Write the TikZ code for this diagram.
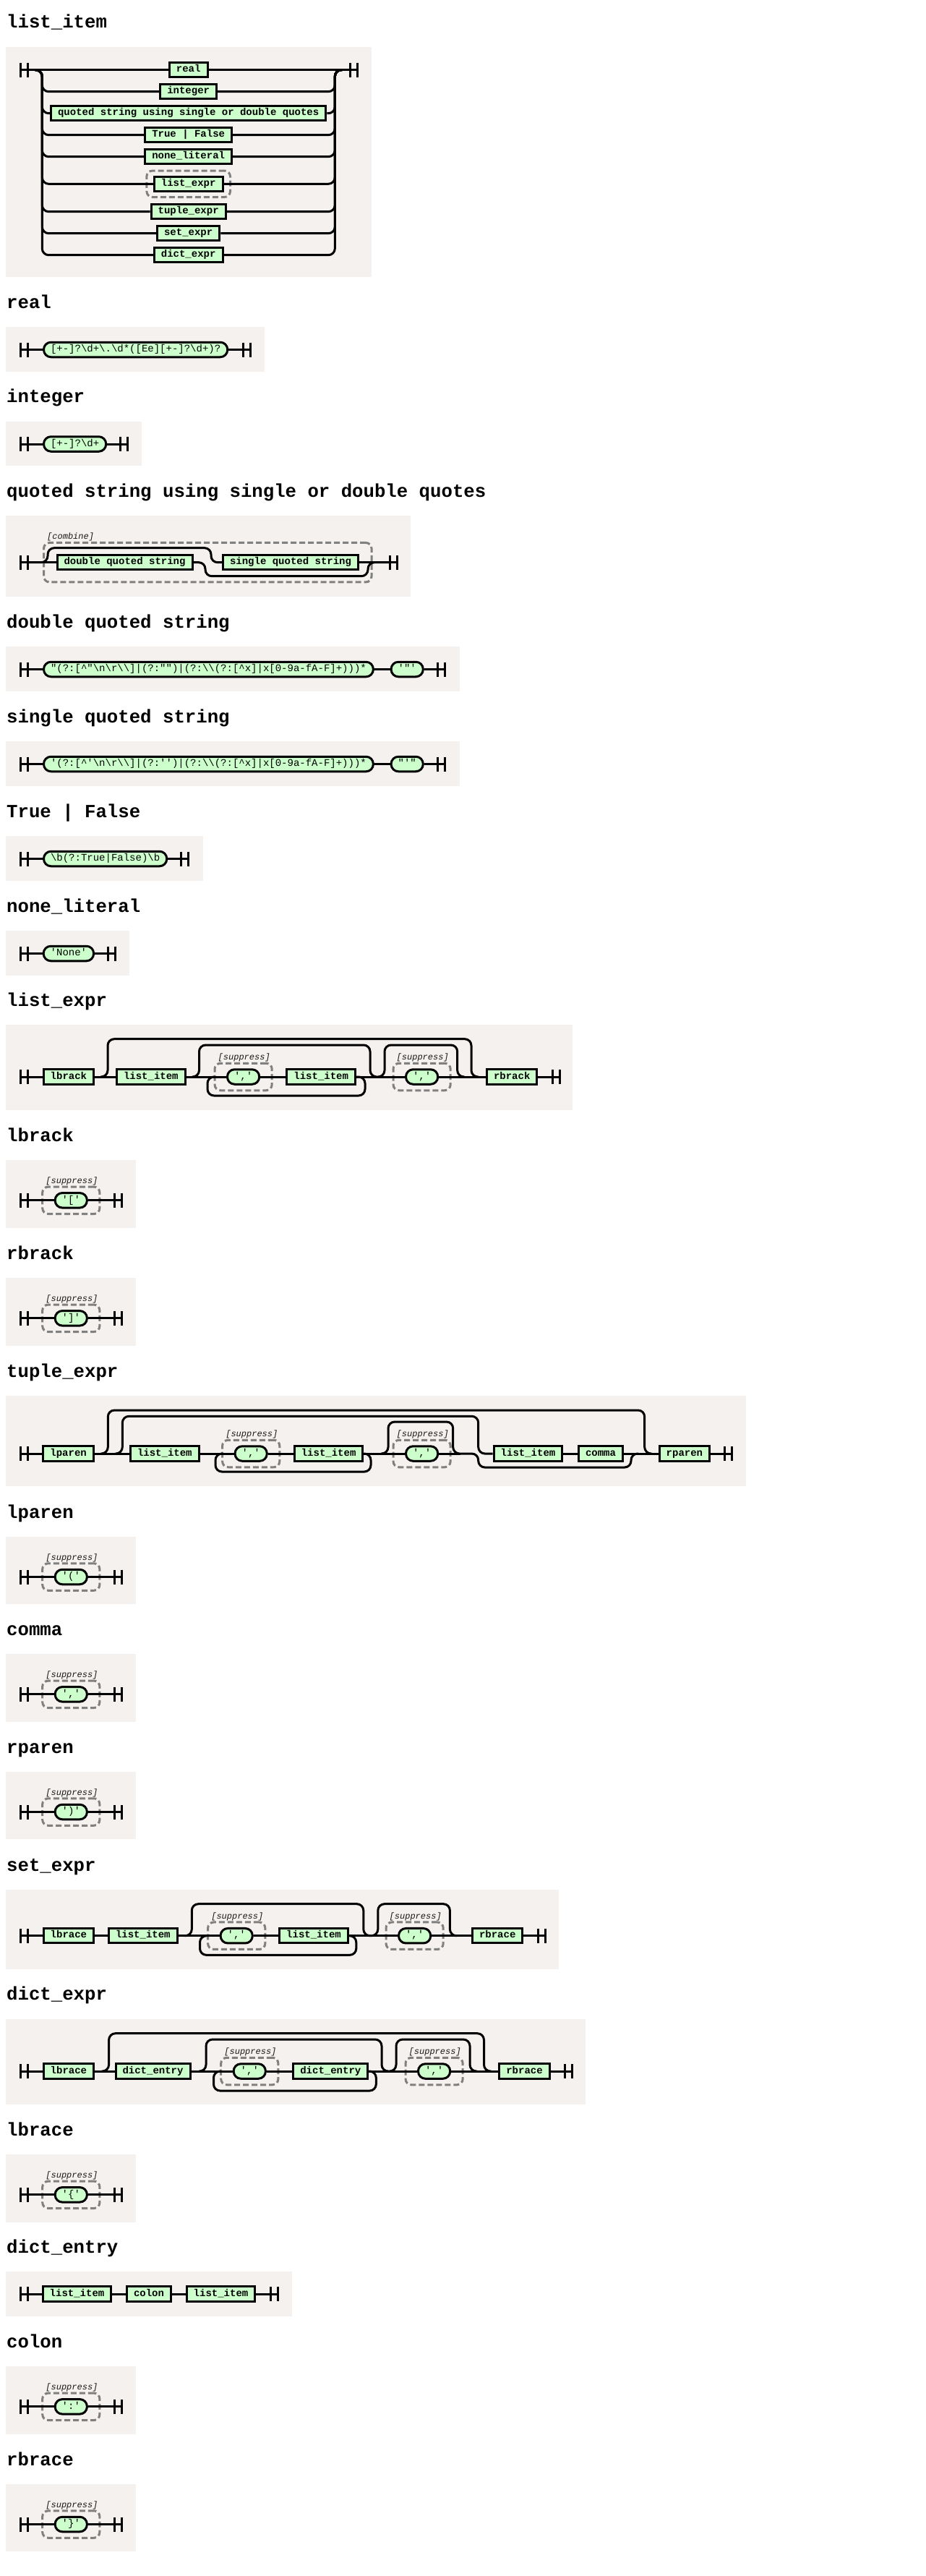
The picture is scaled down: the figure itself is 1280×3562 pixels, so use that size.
\documentclass[tikz,border=0pt]{standalone}
\usepackage{fontspec}
\setmonofont{Liberation Mono}
\usepackage{tikz}
\usetikzlibrary{fit}
\definecolor{panelbg}{RGB}{244,241,238}
\definecolor{boxgreen}{RGB}{204,255,204}
\definecolor{grpgray}{RGB}{128,128,128}
\newcommand{\rbs}{\textbackslash}
\newcommand{\rrtitle}{\ttfamily\bfseries\fontsize{25.7}{30}\selectfont}
\newcommand{\rrbox}{\ttfamily\bfseries\fontsize{14}{16}\selectfont}
\newcommand{\rrterm}{\ttfamily\fontsize{14}{16}\selectfont}
\newcommand{\rrnote}{\ttfamily\itshape\fontsize{12}{14}\selectfont}
\newcommand{\rrstart}[2]{\draw[line width=3pt] (28.7,#2-10) -- (28.7,#2+10) (38.7,#2-10) -- (38.7,#2+10) (28.7,#2) -- (38.7,#2); \coordinate (#1) at (38.7,#2);}
\newcommand{\rrend}[3]{\draw[line width=3pt] (#2,#3-10) -- (#2,#3+10) (#2+10,#3-10) -- (#2+10,#3+10) (#2,#3) -- (#2+10,#3); \coordinate (#1) at (#2,#3);}

\begin{document}
\begin{tikzpicture}[x=1pt, y=-1pt,
		panel/.style={fill=panelbg},
		rail/.style={line width=3pt, rounded corners=9pt},
		nterm/.style={draw, fill=boxgreen, line width=3pt, minimum height=20.5pt, inner xsep=9.5pt, inner ysep=0pt, text height=9pt, text depth=2.5pt, font=\rrbox},
		term/.style={nterm, rounded corners=10pt, font=\rrterm},
		grp/.style={draw=grpgray, line width=3pt, dash pattern=on 8pt off 4pt, rounded corners=8pt, inner xsep=16pt, inner ysep=7pt},
		grpnote/.style={font=\rrnote, text=black!90, inner sep=0pt, anchor=base west},
		rrhead/.style={font=\rrtitle, inner sep=0pt, anchor=base west}]
	\fill[white] (0,0) rectangle (1280,3562);

	\node[rrhead] (h-li) at (9,39) {list\_item};
	\fill[panel] (8,65) rectangle (514,383);
	\rrstart{li-s}{96.7}
	\rrend{li-e}{484}{96.7}
	\node[nterm] (li1) at (260.7,96.7) {real};
	\node[nterm] (li2) at (260.7,126.7) {integer};
	\node[nterm] (li3) at (260.7,156.7) {quoted string using single or double quotes};
	\node[nterm] (li4) at (260.7,186.7) {True | False};
	\node[nterm] (li5) at (260.7,216.7) {none\_literal};
	\node[nterm] (li6) at (260.7,254.3) {list\_expr};
	\node[nterm] (li7) at (260.7,292.7) {tuple\_expr};
	\node[nterm] (li8) at (260.7,322.7) {set\_expr};
	\node[nterm] (li9) at (260.7,352.7) {dict\_expr};
	\node[grp, fit=(li6), inner xsep=9pt, inner ysep=6.5pt] (li-g) {};
	\coordinate (li-l) at (48.3,96.7);
	\coordinate (li-lv) at (58.3,96.7);
	\coordinate (li-rv) at (463.3,96.7);
	\coordinate (li-r) at (473.3,96.7);
	\draw[rail] (li-s) -- (li1) -- (li-e);
	\foreach \n in {li2,li3,li4,li5,li6,li7,li8,li9}
		\draw[rail] (li-l) -| (li-lv |- \n.west) -- (\n.west) (\n.east) -| (li-rv) -- (li-r);

	\node[rrhead] (h-re) at (9,426) {real};
	\fill[panel] (8,452) rectangle (366,513.5);
	\rrstart{re-s}{483.5}
	\node[term, anchor=west] (re1) at (59,483.5) {[+-]?\rbs d+\rbs .\rbs d*([Ee][+-]?\rbs d+)?};
	\rrend{re-e}{336.5}{483.5}
	\draw[rail] (re-s) -- (re1) -- (re-e);

	\node[rrhead] (h-in) at (9,556.5) {integer};
	\fill[panel] (8,582.5) rectangle (196,644);
	\rrstart{in-s}{614}
	\node[term, anchor=west] (in1) at (59,614) {[+-]?\rbs d+};
	\rrend{in-e}{166.4}{614}
	\draw[rail] (in-s) -- (in1) -- (in-e);

	\node[rrhead] (h-qs) at (9,687) {quoted string using single or double quotes};
	\fill[panel] (8,713) rectangle (568,824.7);
	\rrstart{qs-s}{777.7}
	\node[nterm, anchor=west] (qs1) at (77.5,777.7) {double quoted string};
	\node[nterm, anchor=west] (qs2) at (307,777.7) {single quoted string};
	\node[grp, fit=(qs1)(qs2), inner xsep=17pt, inner ysep=15.5pt] (qs-g) {};
	\node[grpnote] (qs-n) at ([xshift=6pt,yshift=3.5pt]qs-g.north west) {[combine]};
	\rrend{qs-e}{539}{777.7}
	\draw[rail] (qs-s) -- (qs1);
	\draw[rail] (qs-s) -| (66,757.7) -| (292,777.7) -- (qs2.west);
	\draw[rail] (qs1.east) -| (284,796.7) -| (509,777.7) -- (qs-e);
	\draw[rail] (qs2) -- (qs-e);

	\node[rrhead] (h-dq) at (9,868) {double quoted string};
	\fill[panel] (8,894) rectangle (635.5,955.5);
	\rrstart{dq-s}{925.5}
	\node[term, anchor=west] (dq1) at (59,925.5) {"(?:[\textasciicircum"\rbs n\rbs r\rbs\rbs]|(?:"")|(?:\rbs\rbs(?:[\textasciicircum x]|x[0-9a-fA-F]+)))*};
	\node[term, anchor=west] (dq2) at (539.6,925.5) {'"'};
	\rrend{dq-e}{605}{925.5}
	\draw[rail] (dq-s) -- (dq1) -- (dq2) -- (dq-e);

	\node[rrhead] (h-sq) at (9,999) {single quoted string};
	\fill[panel] (8,1025) rectangle (635.5,1086.5);
	\rrstart{sq-s}{1056.5}
	\node[term, anchor=west] (sq1) at (59,1056.5) {'(?:[\textasciicircum'\rbs n\rbs r\rbs\rbs]|(?:'')|(?:\rbs\rbs(?:[\textasciicircum x]|x[0-9a-fA-F]+)))*};
	\node[term, anchor=west] (sq2) at (539.6,1056.5) {"'"};
	\rrend{sq-e}{605}{1056.5}
	\draw[rail] (sq-s) -- (sq1) -- (sq2) -- (sq-e);

	\node[rrhead] (h-tf) at (9,1130) {True | False};
	\fill[panel] (8,1156) rectangle (281,1217.5);
	\rrstart{tf-s}{1187.5}
	\node[term, anchor=west] (tf1) at (59,1187.5) {\rbs b(?:True|False)\rbs b};
	\rrend{tf-e}{250}{1187.5}
	\draw[rail] (tf-s) -- (tf1) -- (tf-e);

	\node[rrhead] (h-nl) at (9,1261) {none\_literal};
	\fill[panel] (8,1287) rectangle (179,1348.5);
	\rrstart{nl-s}{1318.5}
	\node[term, anchor=west] (nl1) at (58.7,1318.5) {'None'};
	\rrend{nl-e}{149.4}{1318.5}
	\draw[rail] (nl-s) -- (nl1) -- (nl-e);

	\node[rrhead] (h-le) at (9,1391.3) {list\_expr};
	\fill[panel] (8,1417.3) rectangle (792,1535);
	\rrstart{le-s}{1489}
	\node[nterm, anchor=west] (le1) at (58.7,1489) {lbrack};
	\node[nterm, anchor=west] (le2) at (160,1489) {list\_item};
	\node[term, anchor=west] (le3) at (313,1489) {','};
	\node[nterm, anchor=west] (le4) at (395.4,1489) {list\_item};
	\node[term, anchor=west] (le5) at (560,1489) {','};
	\node[nterm, anchor=west] (le6) at (672,1489) {rbrack};
	\node[grp, fit=(le3)] (le-g1) {};
	\node[grp, fit=(le5)] (le-g2) {};
	\node[grpnote] (le-n1) at ([xshift=6pt,yshift=3pt]le-g1.north west) {[suppress]};
	\node[grpnote] (le-n2) at ([xshift=6pt,yshift=3pt]le-g2.north west) {[suppress]};
	\rrend{le-e}{764}{1489}
	\coordinate (le-o1) at (139,1489);
	\coordinate (le-o2) at (662,1489);
	\coordinate (le-k1) at (265.5,1489);
	\coordinate (le-k2) at (522,1489);
	\coordinate (le-r) at (297,1489);
	\coordinate (le-q2) at (642.7,1489);
	\draw[rail] (le-s) -- (le1) -- (le2) -- (le3) -- (le4) -- (le5) -- (le6) -- (le-e);
	\draw[rail] (le-o1) -| (149,1436.7) -| (652,1489) -- (le-o2);
	\draw[rail] (le-k1) -| (275.5,1445) -| (512,1489) -- (le-k2);
	\draw[rail] (le4.east) -| (505,1515) -| (287,1489) -- (le-r);
	\draw[rail] (le-k2) -| (532,1445) -| (632.7,1489) -- (le-q2);

	\node[rrhead] (h-te) at (9,1904) {tuple\_expr};
	\fill[panel] (8,1930) rectangle (1031.7,2055);
	\rrstart{te-s}{2010}
	\node[nterm, anchor=west] (te1) at (58.4,2010) {lparen};
	\node[nterm, anchor=west] (te2) at (179,2010) {list\_item};
	\node[term, anchor=west] (te3) at (323.6,2010) {','};
	\node[nterm, anchor=west] (te4) at (405.8,2010) {list\_item};
	\node[term, anchor=west] (te5) at (560,2010) {','};
	\node[nterm, anchor=west] (te6) at (681.7,2010) {list\_item};
	\node[nterm, anchor=west] (te7) at (799,2010) {comma};
	\node[nterm, anchor=west] (te8) at (910.7,2010) {rparen};
	\node[grp, fit=(te3)] (te-g1) {};
	\node[grp, fit=(te5)] (te-g2) {};
	\node[grpnote] (te-n1) at ([xshift=6pt,yshift=3pt]te-g1.north west) {[suppress]};
	\node[grpnote] (te-n2) at ([xshift=6pt,yshift=3pt]te-g2.north west) {[suppress]};
	\rrend{te-e}{1002.7}{2010}
	\coordinate (te-o1) at (139.3,2010);
	\coordinate (te-o2) at (901.7,2010);
	\coordinate (te-b1) at (159.3,2010);
	\coordinate (te-l) at (308,2010);
	\coordinate (te-p1) at (527,2010);
	\coordinate (te-p2) at (636.7,2010);
	\coordinate (te-a2) at (883,2010);
	\draw[rail] (te-s) -- (te1) -- (te2) -- (te3) -- (te4) -- (te5) -- (te-p2);
	\draw[rail] (te6) -- (te7) -- (te8) -- (te-e);
	\draw[rail] (te-o1) -| (149.3,1950) -| (891.7,2010) -- (te-o2);
	\draw[rail] (te-b1) -| (169.3,1958.3) -| (661.7,2010) -- (te6.west);
	\draw[rail] (te4.east) -| (513,2035) -| (298,2010) -- (te-l);
	\draw[rail] (te-p1) -| (537,1966) -| (626.7,2010) -- (te-p2);
	\draw[rail] (te-p2) -| (661.7,2029) -| (873,2010) -- (te-a2);

	\node[rrhead] (h-se) at (9,2587.3) {set\_expr};
	\fill[panel] (8,2613.3) rectangle (773,2722.7);
	\rrstart{se-s}{2676.7}
	\node[nterm, anchor=west] (se1) at (58.7,2676.7) {lbrace};
	\node[nterm, anchor=west] (se2) at (149,2676.7) {list\_item};
	\node[term, anchor=west] (se3) at (303.6,2676.7) {','};
	\node[nterm, anchor=west] (se4) at (385.2,2676.7) {list\_item};
	\node[term, anchor=west] (se5) at (550,2676.7) {','};
	\node[nterm, anchor=west] (se6) at (652,2676.7) {rbrace};
	\node[grp, fit=(se3)] (se-g1) {};
	\node[grp, fit=(se5)] (se-g2) {};
	\node[grpnote] (se-n1) at ([xshift=6pt,yshift=3pt]se-g1.north west) {[suppress]};
	\node[grpnote] (se-n2) at ([xshift=6pt,yshift=3pt]se-g2.north west) {[suppress]};
	\rrend{se-e}{744}{2676.7}
	\coordinate (se-k1) at (255.3,2676.7);
	\coordinate (se-k2) at (512.8,2676.7);
	\coordinate (se-r) at (286.5,2676.7);
	\coordinate (se-q2) at (632.4,2676.7);
	\draw[rail] (se-s) -- (se1) -- (se2) -- (se3) -- (se4) -- (se5) -- (se6) -- (se-e);
	\draw[rail] (se-k1) -| (265.3,2632.7) -| (502.8,2676.7) -- (se-k2);
	\draw[rail] (se4.east) -| (492.8,2703.3) -| (276.5,2676.7) -- (se-r);
	\draw[rail] (se-k2) -| (522.8,2632.7) -| (622.4,2676.7) -- (se-q2);

	\node[rrhead] (h-de) at (9,2765.7) {dict\_expr};
	\fill[panel] (8,2791.7) rectangle (809.6,2910);
	\rrstart{de-s}{2864}
	\node[nterm, anchor=west] (de1) at (58.7,2864) {lbrace};
	\node[nterm, anchor=west] (de2) at (158.5,2864) {dict\_entry};
	\node[term, anchor=west] (de3) at (321.7,2864) {','};
	\node[nterm, anchor=west] (de4) at (404.3,2864) {dict\_entry};
	\node[term, anchor=west] (de5) at (577,2864) {','};
	\node[nterm, anchor=west] (de6) at (689.3,2864) {rbrace};
	\node[grp, fit=(de3)] (de-g1) {};
	\node[grp, fit=(de5)] (de-g2) {};
	\node[grpnote] (de-n1) at ([xshift=6pt,yshift=3pt]de-g1.north west) {[suppress]};
	\node[grpnote] (de-n2) at ([xshift=6pt,yshift=3pt]de-g2.north west) {[suppress]};
	\rrend{de-e}{781}{2864}
	\coordinate (de-o1) at (140.6,2864);
	\coordinate (de-o2) at (679.5,2864);
	\coordinate (de-k1) at (275,2864);
	\coordinate (de-k2) at (538,2864);
	\coordinate (de-r) at (305.5,2864);
	\coordinate (de-q2) at (660,2864);
	\draw[rail] (de-s) -- (de1) -- (de2) -- (de3) -- (de4) -- (de5) -- (de6) -- (de-e);
	\draw[rail] (de-o1) -| (150.6,2811.7) -| (669.5,2864) -- (de-o2);
	\draw[rail] (de-k1) -| (285,2820) -| (528,2864) -- (de-k2);
	\draw[rail] (de4.east) -| (520.3,2891) -| (295.5,2864) -- (de-r);
	\draw[rail] (de-k2) -| (548,2820) -| (650,2864) -- (de-q2);

	\node[rrhead] (h-dn) at (9,3115) {dict\_entry};
	\fill[panel] (8,3141) rectangle (404,3202.7);
	\rrstart{dn-s}{3172}
	\node[nterm, anchor=west] (dn1) at (57.7,3172) {list\_item};
	\node[nterm, anchor=west] (dn2) at (174,3172) {colon};
	\node[nterm, anchor=west] (dn3) at (256.7,3172) {list\_item};
	\rrend{dn-e}{374}{3172}
	\draw[rail] (dn-s) -- (dn1) -- (dn2) -- (dn3) -- (dn-e);

	\foreach \nm/\ttl/\py/\sym in {lb/lbrack/1604.3/{'['}, rb/rbrack/1767.3/{']'}, lp/lparen/2125/{'('}, cm/comma/2287.3/{','}, rp/rparen/2450/{')'}, lc/lbrace/2979.3/{'\{'}, cl/colon/3272.3/{':'}, rc/rbrace/3435/{'\}'}} {
		\node[rrhead] (h-\nm) at (9,\py-26) {\ttl};
		\fill[panel] (8,\py) rectangle (188,\py+93.4);
		\rrstart{\nm-s}{\py+55.5}
		\node[term, anchor=west] (\nm-p) at (74.7,\py+55.5) {\sym};
		\node[grp, fit=(\nm-p)] (\nm-g) {};
		\node[grpnote] (\nm-n) at ([xshift=6pt,yshift=3pt]\nm-g.north west) {[suppress]};
		\rrend{\nm-e}{158}{\py+55.5}
		\draw[rail] (\nm-s) -- (\nm-p) -- (\nm-e);
	}
\end{tikzpicture}
\end{document}
